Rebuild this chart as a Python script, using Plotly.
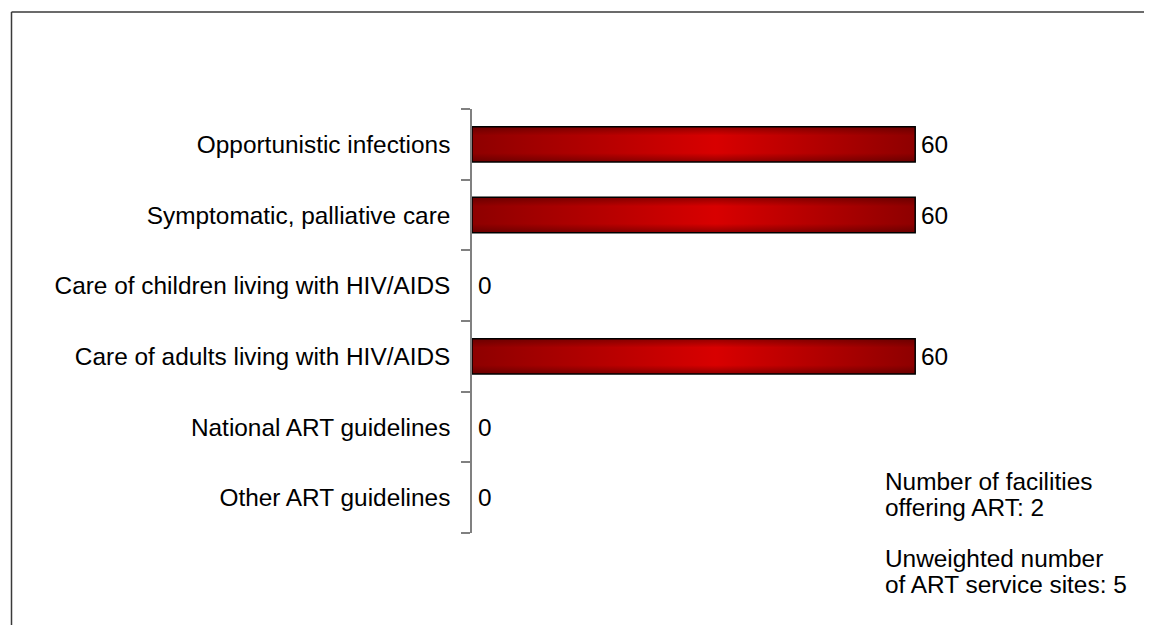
import plotly.graph_objects as go

# data
categories = [
    "Opportunistic infections",
    "Symptomatic, palliative care",
    "Care of children living with HIV/AIDS",
    "Care of adults living with HIV/AIDS",
    "National ART guidelines",
    "Other ART guidelines",
]
values = [60, 60, 0, 60, 0, 0]
note_lines = [
    "Number of facilities",
    "offering ART: 2",
    "Unweighted number",
    "of ART service sites: 5",
]

W, H = 1144, 617
L, R, T, B = 464, 126, 101, 92
FONT = "Arial, Liberation Sans, sans-serif"
FS = 24.4
BAR_W = 0.5


def px_x(p):
    return (p - L) / (W - L - R)


def px_y(p):
    return (H - B - p) / (H - T - B)


fig = go.Figure()

# gradient-filled bars
for i, v in enumerate(values):
    if v <= 0:
        continue
    y0, y1 = i - BAR_W / 2, i + BAR_W / 2
    fig.add_trace(
        go.Scatter(
            x=[0, v, v, 0, 0],
            y=[y0, y0, y1, y1, y0],
            mode="lines",
            fill="toself",
            fillgradient=dict(
                type="horizontal",
                colorscale=[[0, "#8e0000"], [0.55, "#d80000"], [1, "#8e0000"]],
            ),
            line=dict(width=0),
            hoverinfo="skip",
            showlegend=False,
        )
    )
    # soft darkening toward top / bottom edges
    fig.add_trace(
        go.Scatter(
            x=[0, v, v, 0, 0],
            y=[y0, y0, y1, y1, y0],
            mode="lines",
            fill="toself",
            fillgradient=dict(
                type="vertical",
                colorscale=[
                    [0, "rgba(60,0,0,0.45)"],
                    [0.25, "rgba(60,0,0,0)"],
                    [0.75, "rgba(60,0,0,0)"],
                    [1, "rgba(60,0,0,0.45)"],
                ],
            ),
            line=dict(color="black", width=1.5),
            hoverinfo="skip",
            showlegend=False,
        )
    )

# value labels
for i, v in enumerate(values):
    fig.add_annotation(
        x=v, y=i, text=str(v), showarrow=False,
        xanchor="left", xshift=4,
        font=dict(family=FONT, size=FS, color="black"),
    )

# side notes
note_y = [473, 499, 550, 576]
for txt, py in zip(note_lines, note_y):
    fig.add_annotation(
        xref="paper", yref="paper",
        x=px_x(875), y=px_y(py), text=txt, showarrow=False,
        xanchor="left", yanchor="middle",
        font=dict(family=FONT, size=FS, color="black"),
    )

# frame lines (top and left)
fig.add_shape(type="line", xref="paper", yref="paper",
              x0=px_x(3.5), x1=px_x(W + 10), y0=px_y(4), y1=px_y(4),
              line=dict(color="#3a3a3a", width=1.5))
fig.add_shape(type="line", xref="paper", yref="paper",
              x0=px_x(3.5), x1=px_x(3.5), y0=px_y(4), y1=px_y(H + 10),
              line=dict(color="#3a3a3a", width=1.5))

fig.update_xaxes(range=[0, 75], visible=False, fixedrange=True)
fig.update_yaxes(
    range=[5.5, -0.5],
    tickvals=list(range(len(categories))),
    ticktext=categories,
    ticks="outside", ticklen=9, tickcolor="rgba(0,0,0,0)",
    ticklabelstandoff=6,
    minor=dict(tick0=-0.5, dtick=1, ticks="outside", ticklen=9,
               tickcolor="#808080", tickwidth=1.5),
    showline=True, linecolor="#808080", linewidth=1.5,
    showgrid=False, zeroline=False,
    tickfont=dict(family=FONT, size=FS, color="black"),
)

fig.update_layout(
    width=W, height=H,
    margin=dict(l=L, r=R, t=T, b=B),
    plot_bgcolor="white", paper_bgcolor="white",
    showlegend=False,
)

fig.write_html("out.html")
